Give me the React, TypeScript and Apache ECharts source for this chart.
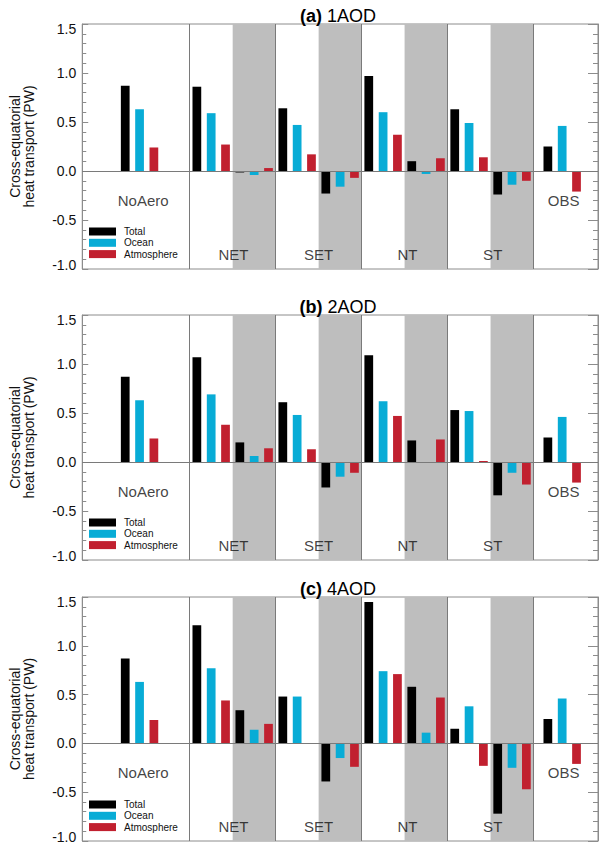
import React, { useEffect, useRef } from "react";
import * as echarts from "echarts";

// Slot names: each experiment has a white half and a grey half
const slots = ["NoAero", "NET", "NET*", "SET", "SET*", "NT", "NT*", "ST", "ST*", "OBS"];
// x position (in bar slots) of the Total bar for each slot; Ocean = +1, Atmosphere = +2
const slotX = [3, 8, 11, 14, 17, 20, 23, 26, 29, 32.5];

const panelTitles = ["(a)", "(b)", "(c)"];
const panelNames = ["1AOD", "2AOD", "4AOD"];

const totalA = [0.87, 0.86, -0.015, 0.64, -0.23, 0.97, 0.1, 0.63, -0.24, 0.25];
const oceanA = [0.63, 0.59, -0.04, 0.47, -0.16, 0.6, -0.03, 0.49, -0.14, 0.46];
const atmosA = [0.24, 0.27, 0.03, 0.17, -0.07, 0.37, 0.13, 0.14, -0.1, -0.21];

const totalB = [0.87, 1.07, 0.2, 0.61, -0.26, 1.09, 0.22, 0.53, -0.34, 0.25];
const oceanB = [0.63, 0.69, 0.06, 0.48, -0.15, 0.62, -0.01, 0.52, -0.11, 0.46];
const atmosB = [0.24, 0.38, 0.14, 0.13, -0.11, 0.47, 0.23, 0.01, -0.23, -0.21];

const totalC = [0.87, 1.21, 0.34, 0.48, -0.39, 1.45, 0.58, 0.15, -0.72, 0.25];
const oceanC = [0.63, 0.77, 0.14, 0.48, -0.15, 0.74, 0.11, 0.38, -0.25, 0.46];
const atmosC = [0.24, 0.44, 0.2, 0.0, -0.24, 0.71, 0.47, -0.23, -0.47, -0.21];

const groupLabels = ["NoAero", "NET", "SET", "NT", "ST", "OBS"];
const groupLabelX = [4.25, 10.55, 16.5, 22.7, 28.65, 33.6];
const groupLabelY = [-0.3, -0.85, -0.85, -0.85, -0.85, -0.3];

const dividerX = [7.5, 13.5, 19.5, 25.5, 31.5];
const greyBands = [
  [10.5, 13.5],
  [16.5, 19.5],
  [22.5, 25.5],
  [28.5, 31.5],
];

const yTicks = { min: -1, max: 1.5, interval: 0.5 };

const seriesNames = ["Total", "Ocean", "Atmosphere"];
const colors = ["#000000", "#08acd6", "#c1202f"];

const panelData = [
  [totalA, oceanA, atmosA],
  [totalB, oceanB, atmosB],
  [totalC, oceanC, atmosC],
];

const FONT = "Liberation Sans";
const BAR_W = 0.61; // bar width in slot units

export default function App() {
  const ref = useRef<HTMLDivElement>(null);

  useEffect(() => {
    if (!ref.current) return;
    const chart = echarts.init(ref.current, null, { renderer: "svg" });

    const gridTops = [24, 315, 597];
    const gridH = 245;
    const grids = gridTops.map((t) => ({
      left: 68,
      top: t,
      width: 530,
      height: gridH,
      show: true,
      borderColor: "#8c8c8c",
      borderWidth: 1,
      backgroundColor: "transparent",
    }));

    const xAxes = gridTops.map((_, i) => ({
      type: "value",
      gridIndex: i,
      min: 0,
      max: 36,
      axisLine: { show: false },
      axisTick: { show: false },
      axisLabel: { show: false },
      splitLine: { show: false },
    }));

    const yAxes: any[] = [];
    gridTops.forEach((_, i) => {
      yAxes.push({
        type: "value",
        gridIndex: i,
        min: yTicks.min,
        max: yTicks.max,
        interval: yTicks.interval,
        position: "left",
        name: "Cross-equatorial\nheat transport (PW)",
        nameLocation: "middle",
        nameRotate: 90,
        nameGap: 47,
        nameTextStyle: { fontFamily: FONT, fontSize: 14, color: "#111", lineHeight: 13.5 },
        axisLine: { show: true, lineStyle: { color: "#8c8c8c" } },
        axisTick: { show: true, inside: true, length: 6, lineStyle: { color: "#8c8c8c" } },
        minorTick: { show: true, splitNumber: 5, length: 4, lineStyle: { color: "#8c8c8c" } },
        splitLine: { show: false },
        axisLabel: {
          fontFamily: FONT,
          fontSize: 14,
          color: "#111",
          margin: 6,
          formatter: (v: number) =>
            v === yTicks.max ? "{t|" + v.toFixed(1) + "}" : v === yTicks.min ? "{b|" + v.toFixed(1) + "}" : v.toFixed(1),
          rich: {
            t: { fontFamily: FONT, fontSize: 14, color: "#111", padding: [9, 0, 0, 0] },
            b: { fontFamily: FONT, fontSize: 14, color: "#111", padding: [0, 0, 8, 0] },
          },
        },
      });
      yAxes.push({
        type: "value",
        gridIndex: i,
        min: yTicks.min,
        max: yTicks.max,
        interval: yTicks.interval,
        position: "right",
        axisLine: { show: true, lineStyle: { color: "#8c8c8c" } },
        axisTick: { show: true, inside: true, length: 10, lineStyle: { color: "#8c8c8c" } },
        minorTick: { show: true, splitNumber: 5, length: 5, lineStyle: { color: "#8c8c8c" } },
        splitLine: { show: false },
        axisLabel: { show: false },
      });
    });

    const renderBar = (params: any, api: any) => {
      const x = api.value(0);
      const y = api.value(1);
      const top = api.coord([x, y]);
      const base = api.coord([x, 0]);
      const w = api.size([BAR_W, 0])[0];
      return {
        type: "rect",
        shape: {
          x: top[0] - w / 2,
          y: Math.min(top[1], base[1]),
          width: w,
          height: Math.abs(base[1] - top[1]),
        },
        style: { fill: api.visual("color") },
      };
    };

    const series: any[] = [];
    panelData.forEach((vals, p) => {
      // grey bands
      series.push({
        type: "scatter",
        xAxisIndex: p,
        yAxisIndex: p * 2,
        data: [],
        silent: true,
        z: 1,
        markArea: {
          silent: true,
          itemStyle: { color: "#bebebe" },
          data: greyBands.map((b) => [{ xAxis: b[0] }, { xAxis: b[1] }]),
        },
      });
      // dividers and zero line
      series.push({
        type: "scatter",
        xAxisIndex: p,
        yAxisIndex: p * 2,
        data: [],
        silent: true,
        z: 2,
        markLine: {
          silent: true,
          symbol: "none",
          label: { show: false },
          lineStyle: { color: "#7a7a7a", type: "solid", width: 1 },
          data: [...dividerX.map((x) => ({ xAxis: x })), { yAxis: 0 }],
        },
      });
      vals.forEach((arr, s) => {
        series.push({
          type: "custom",
          name: seriesNames[s],
          xAxisIndex: p,
          yAxisIndex: p * 2,
          renderItem: renderBar,
          encode: { x: 0, y: 1 },
          itemStyle: { color: colors[s] },
          data: arr.map((v, k) => [slotX[k] + s, v, slots[k]]),
          z: 3,
        });
      });
      series.push({
        type: "scatter",
        xAxisIndex: p,
        yAxisIndex: p * 2,
        symbolSize: 0,
        silent: true,
        z: 5,
        label: {
          show: true,
          position: "inside",
          fontFamily: FONT,
          fontSize: 15,
          color: "#111",
          formatter: (pr: any) => pr.value[2],
        },
        data: groupLabels.map((g, k) => [groupLabelX[k], groupLabelY[k], g]),
      });
    });

    const titles = gridTops.map((t, i) => ({
      text: "{b|" + panelTitles[i] + "} {n|" + panelNames[i] + "}",
      left: 333,
      top: t - 22,
      textAlign: "center",
      textStyle: {
        rich: {
          b: { fontFamily: FONT, fontSize: 18, fontWeight: "bold", color: "#000" },
          n: { fontFamily: FONT, fontSize: 18, fontWeight: "normal", color: "#000" },
        },
      },
    }));

    const legends = gridTops.map((t) => ({
      data: seriesNames,
      orient: "vertical",
      left: 84,
      top: t + 197.5,
      itemWidth: 27,
      itemHeight: 8,
      itemGap: 1.3,
      icon: "rect",
      selectedMode: false,
      textStyle: { fontFamily: FONT, fontSize: 10, color: "#111", lineHeight: 8, padding: [0, 0, 0, 3] },
    }));

    chart.setOption({
      animation: false,
      backgroundColor: "#ffffff",
      title: titles,
      legend: legends,
      grid: grids,
      xAxis: xAxes,
      yAxis: yAxes,
      series,
    });

    return () => chart.dispose();
  }, []);

  return (
    <div
      ref={ref}
      style={{ position: "absolute", left: 0, top: 0, width: 600, height: 844 }}
    />
  );
}
